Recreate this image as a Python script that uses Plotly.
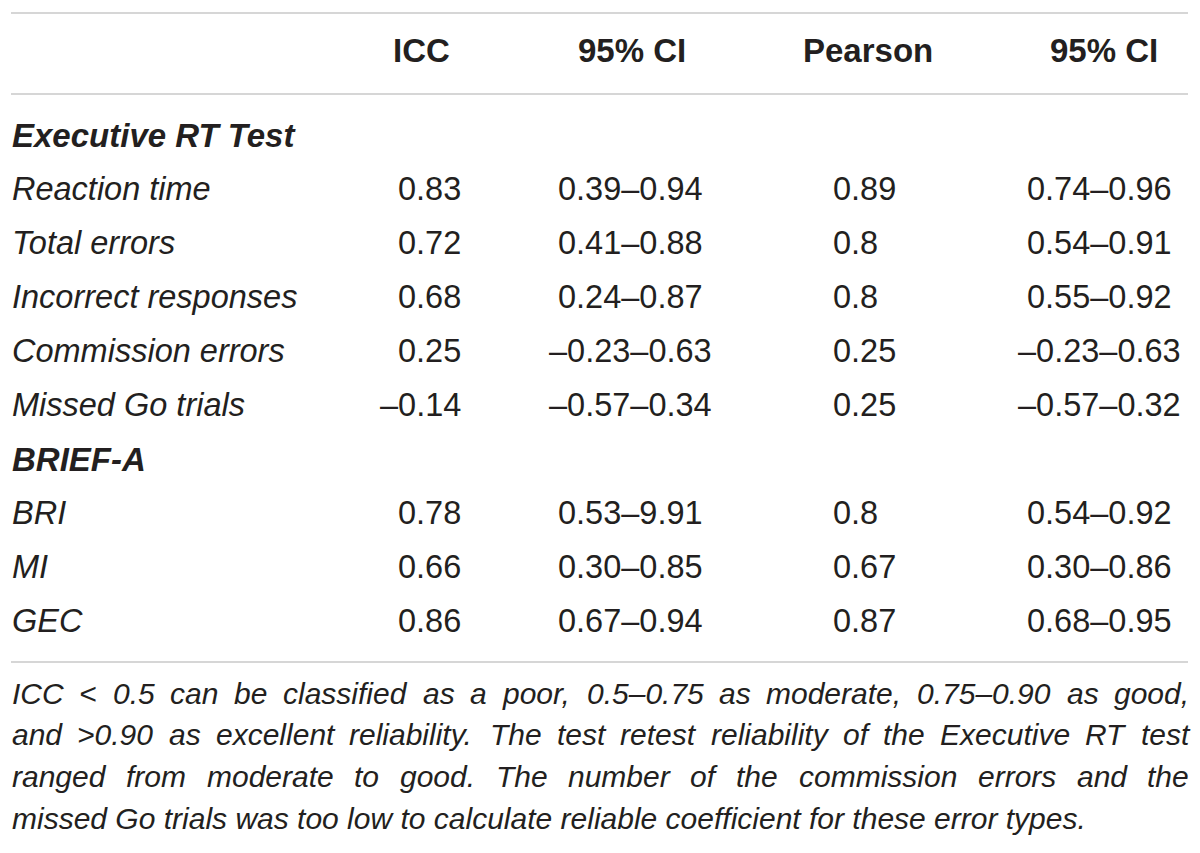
import plotly.graph_objects as go

# table content
columns = ["ICC", "95% CI", "Pearson", "95% CI"]

sections = ["Executive RT Test", "BRIEF-A"]

rt_labels = ["Reaction time", "Total errors", "Incorrect responses",
             "Commission errors", "Missed Go trials"]
rt_icc = ["0.83", "0.72", "0.68", "0.25", "–0.14"]
rt_icc_ci = ["0.39–0.94", "0.41–0.88", "0.24–0.87", "–0.23–0.63", "–0.57–0.34"]
rt_pearson = ["0.89", "0.8", "0.8", "0.25", "0.25"]
rt_pearson_ci = ["0.74–0.96", "0.54–0.91", "0.55–0.92", "–0.23–0.63", "–0.57–0.32"]

brief_labels = ["BRI", "MI", "GEC"]
brief_icc = ["0.78", "0.66", "0.86"]
brief_icc_ci = ["0.53–9.91", "0.30–0.85", "0.67–0.94"]
brief_pearson = ["0.8", "0.67", "0.87"]
brief_pearson_ci = ["0.54–0.92", "0.30–0.86", "0.68–0.95"]

footnote_lines = [
    "ICC < 0.5 can be classified as a poor, 0.5–0.75 as moderate, 0.75–0.90 as good,",
    "and >0.90 as excellent reliability. The test retest reliability of the Executive RT test",
    "ranged from moderate to good. The number of the commission errors and the",
    "missed Go trials was too low to calculate reliable coefficient for these error types.",
]

# layout constants (pixels)
W, H = 1200, 853
PAGE_PAD = 8          # browser body margin, compensated in the axis ranges
LEFT, RIGHT = 11, 1188
HEADER_Y = 50
FIRST_ROW_Y = 135
ROW_H = 54
FOOT_Y0 = 693
FOOT_H = 41.7
FONT = "Liberation Sans, Arial, sans-serif"
TXT = "#231f20"
RULE = "#c9c9c9"
BODY_SIZE = 32.5
HEAD_SIZE = 33
FOOT_SIZE = 30

# column anchors: (x, xanchor) for header and for values
header_pos = [(421, "center"), (632, "center"), (868, "center"), (1104, "center")]
value_pos = [(462, "right"), (630, "center"), (832, "left"), (1099, "center")]

# Helvetica / Liberation Sans advance widths (per 1000 em), used to justify the note
_w = {" ": 278, ",": 278, ".": 278, "-": 333, "<": 584, ">": 584, "–": 556}
_w.update({d: 556 for d in "0123456789"})
_w.update(dict(zip("abcdefghijklmnopqrstuvwxyz",
                   [556, 556, 500, 556, 556, 278, 556, 556, 222, 222, 500, 222, 833,
                    556, 556, 556, 556, 333, 500, 278, 556, 500, 722, 500, 500, 500])))
_w.update(dict(zip("ABCDEFGHIJKLMNOPQRSTUVWXYZ",
                   [667, 667, 722, 722, 667, 611, 778, 722, 278, 500, 667, 556, 833,
                    722, 778, 667, 778, 722, 667, 611, 722, 667, 944, 667, 667, 611])))


def text_width(s, size):
    return sum(_w.get(ch, 556) for ch in s) * size / 1000.0


fig = go.Figure()
fig.add_trace(go.Scatter(x=[PAGE_PAD, W], y=[PAGE_PAD, H], mode="markers",
                         marker=dict(opacity=0), hoverinfo="skip", showlegend=False))

ann = []


def add_text(x, y, text, anchor="left", size=BODY_SIZE):
    ann.append(dict(x=x, y=y, xref="x", yref="y", text=text, showarrow=False,
                    xanchor=anchor, yanchor="middle", borderpad=0,
                    font=dict(family=FONT, size=size, color=TXT)))


for (x, a), c in zip(header_pos, columns):
    add_text(x, HEADER_Y, f"<b>{c}</b>", a, HEAD_SIZE)

blocks = [
    (sections[0], rt_labels, [rt_icc, rt_icc_ci, rt_pearson, rt_pearson_ci]),
    (sections[1], brief_labels, [brief_icc, brief_icc_ci, brief_pearson, brief_pearson_ci]),
]

row = 0
for title, labels, cols in blocks:
    y = FIRST_ROW_Y + row * ROW_H
    add_text(LEFT, y, f"<b><i>{title}</i></b>", size=HEAD_SIZE)
    row += 1
    for i, lab in enumerate(labels):
        y = FIRST_ROW_Y + row * ROW_H
        add_text(LEFT, y, f"<i>{lab}</i>")
        for (x, a), vals in zip(value_pos, cols):
            add_text(x, y, vals[i], a)
        row += 1

# footnote: justified except the last line
for i, line in enumerate(footnote_lines):
    y = FOOT_Y0 + i * FOOT_H
    if i == len(footnote_lines) - 1:
        add_text(LEFT, y, f"<i>{line}</i>", size=FOOT_SIZE)
        continue
    words = line.split(" ")
    widths = [text_width(wd, FOOT_SIZE) for wd in words]
    gap = (RIGHT - LEFT - sum(widths)) / (len(words) - 1)
    x = LEFT
    for wd, ww in zip(words, widths):
        add_text(x, y, f"<i>{wd}</i>", size=FOOT_SIZE)
        x += ww + gap

rules = [13, 94, 662]
shapes = [dict(type="line", xref="x", yref="y", x0=LEFT, x1=RIGHT, y0=r, y1=r,
               line=dict(color=RULE, width=1.5)) for r in rules]

fig.update_layout(
    width=W, height=H,
    margin=dict(l=0, r=0, t=0, b=0),
    paper_bgcolor="white", plot_bgcolor="white",
    xaxis=dict(range=[PAGE_PAD, W + PAGE_PAD], visible=False, fixedrange=True),
    yaxis=dict(range=[H + PAGE_PAD, PAGE_PAD], visible=False, fixedrange=True),
    annotations=ann, shapes=shapes,
    showlegend=False,
)

fig.write_html("out.html")
